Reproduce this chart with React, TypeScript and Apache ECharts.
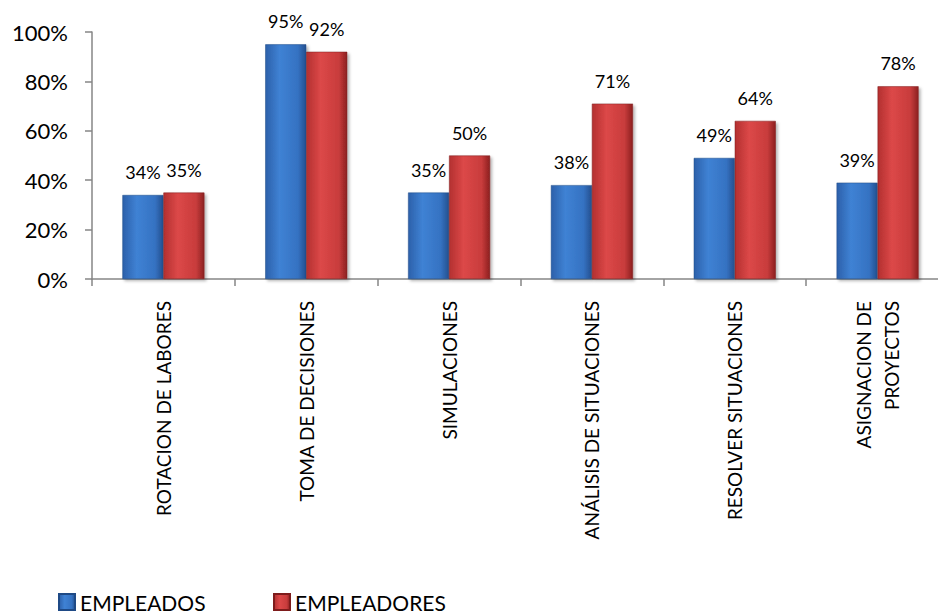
import React, { useEffect, useRef } from "react";
import * as echarts from "echarts";

const categories = [
  "ROTACION DE LABORES",
  "TOMA DE DECISIONES",
  "SIMULACIONES",
  "ANÁLISIS DE SITUACIONES",
  "RESOLVER SITUACIONES",
  "ASIGNACION DE\nPROYECTOS",
];
const empleados = [34, 95, 35, 38, 49, 39];
const empleadores = [35, 92, 50, 71, 64, 78];
const yTicks = [0, 20, 40, 60, 80, 100];

const FONT = "Lato, 'Open Sans', sans-serif";

function grad(c1: string, c2: string, c3: string, c4: string) {
  return new echarts.graphic.LinearGradient(0, 0, 1, 0, [
    { offset: 0, color: c1 },
    { offset: 0.35, color: c2 },
    { offset: 0.8, color: c3 },
    { offset: 1, color: c4 },
  ]);
}

export default function App() {
  const ref = useRef<HTMLDivElement>(null);
  useEffect(() => {
    if (!ref.current) return;
    const chart = echarts.init(ref.current, null, { renderer: "svg" });
    const blue = grad("#2c60aa", "#3f82d4", "#3572c2", "#24508f");
    const red = grad("#b33030", "#dc4848", "#c83c3c", "#8c2020");
    const labelStyle = {
      show: true,
      position: "top" as const,
      distance: 14,
      formatter: "{c}%",
      fontSize: 18,
      color: "#000",
      fontFamily: FONT,
    };
    const legendText = {
      fontSize: 21,
      lineHeight: 22,
      color: "#000",
      fontFamily: FONT,
    };
    chart.setOption({
      animation: false,
      grid: {
        left: 92,
        right: -11,
        top: 32,
        bottom: 337,
        containLabel: false,
        outerBoundsMode: "none",
      },
      legend: [
        {
          data: ["EMPLEADOS"],
          left: 58,
          top: 591,
          padding: 0,
          icon: "rect",
          itemWidth: 16,
          itemHeight: 16,
          textStyle: legendText,
        },
        {
          data: ["EMPLEADORES"],
          left: 273,
          top: 591,
          padding: 0,
          icon: "rect",
          itemWidth: 16,
          itemHeight: 16,
          textStyle: legendText,
        },
      ],
      xAxis: {
        type: "category",
        data: categories,
        axisLine: { lineStyle: { color: "#868686", width: 1.5 } },
        axisTick: { show: true, length: 7, lineStyle: { color: "#868686", width: 1.5 } },
        axisLabel: {
          rotate: 90,
          interval: 0,
          margin: 22,
          fontSize: 19,
          lineHeight: 28,
          color: "#000",
          fontFamily: FONT,
          align: "right",
        },
      },
      yAxis: {
        type: "value",
        min: yTicks[0],
        max: yTicks[yTicks.length - 1],
        interval: 20,
        axisLine: { show: true, lineStyle: { color: "#868686", width: 1.5 } },
        axisTick: { show: true, length: 7, lineStyle: { color: "#868686", width: 1.5 } },
        splitLine: { show: false },
        axisLabel: {
          formatter: "{value}%",
          fontSize: 22,
          margin: 24,
          color: "#000",
          fontFamily: FONT,
        },
      },
      series: [
        {
          name: "EMPLEADOS",
          type: "bar",
          data: empleados,
          barWidth: 41,
          barGap: "0%",
          itemStyle: {
            color: blue,
            borderColor: "#1f4a86",
            borderWidth: 0.5,
            shadowColor: "rgba(0,0,0,0.3)",
            shadowBlur: 3,
            shadowOffsetX: 2,
            shadowOffsetY: 2,
          },
          label: labelStyle,
        },
        {
          name: "EMPLEADORES",
          type: "bar",
          data: empleadores,
          barWidth: 41,
          barGap: "0%",
          itemStyle: {
            color: red,
            borderColor: "#7e1c1c",
            borderWidth: 0.5,
            shadowColor: "rgba(0,0,0,0.3)",
            shadowBlur: 3,
            shadowOffsetX: 2,
            shadowOffsetY: 2,
          },
          label: labelStyle,
        },
      ],
    });
    return () => chart.dispose();
  }, []);
  return <div ref={ref} style={{ width: 938, height: 616, position: "absolute", left: 0, top: 0 }} />;
}
